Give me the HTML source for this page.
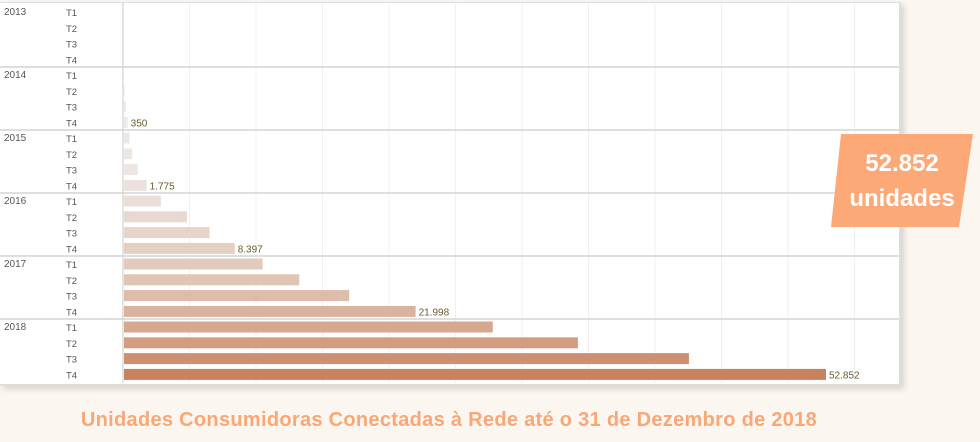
<!DOCTYPE html>
<html><head><meta charset="utf-8"><style>
body{margin:0;width:980px;height:442px;background:#fcf6f0;overflow:hidden;font-family:"Liberation Sans",sans-serif}
#panel{position:absolute;left:0;top:2px;width:899px;height:381px;background:#fff;border-top:1px solid #e0e0e0;border-right:2px solid #ddd;border-bottom:2px solid #ddd;box-shadow:3px 3px 6px rgba(0,0,0,.15)}
#title{position:absolute;left:0;width:898px;top:409px;text-align:center;color:#f9a777;font-weight:bold;font-size:20px;letter-spacing:0.3px;font-family:"Liberation Sans",sans-serif}
#callout{position:absolute;left:831px;top:134px;width:142px;height:93px}
</style></head><body>
<div id="panel">
<svg id="chart" width="900" height="382"></svg>
</div>
<div id="callout">
<svg width="142" height="93"><polygon points="10,0 142,0 128,93 0,93" fill="#fda877"/>
<text x="71" y="37" text-anchor="middle" fill="#fff" font-weight="bold" font-size="24" font-family="Liberation Sans,sans-serif">52.852</text>
<text x="71" y="72" text-anchor="middle" fill="#fff" font-weight="bold" font-size="24" font-family="Liberation Sans,sans-serif">unidades</text></svg>
</div>
<div id="title">Unidades Consumidoras Conectadas à Rede até o 31 de Dezembro de 2018</div>
<script>
const years=["2013","2014","2015","2016","2017","2018"];
const quarters=["T1","T2","T3","T4"];
const values=[0,0,0,0, 50,120,220,350, 500,700,1100,1775, 2850,4800,6500,8397, 10500,13250,17000,21998, 27800,34200,42550,52852];
const labels=["","","","","","","","350","","","","1.775","","","","8.397","","","","21.998","","","","52.852"];
const gridTicks=[0,5000,10000,15000,20000,25000,30000,35000,40000,45000,50000,55000];
const NS="http://www.w3.org/2000/svg";
const svg=document.getElementById('chart');
const x0=123,xMax=52852,xPx=703;
const xs=v=>x0+v/xMax*xPx;
const top0=1,blockH=63,rowH=15.8;
const ys=i=>top0+Math.floor(i/4)*blockH+(i%4)*rowH+8;
function mk(t,a){const e=document.createElementNS(NS,t);for(const k in a)e.setAttribute(k,a[k]);svg.appendChild(e);return e;}
gridTicks.forEach(g=>{const x=xs(g);if(x>898)return;
const l=mk('line',{x1:x,x2:x,y1:0,y2:380,stroke:g===0?'#c8c8c8':'#f0f0f0','stroke-width':1});

});
years.forEach((y,b)=>{
const yy=top0+b*blockH;
if(b>0){const l=mk('line',{x1:0,x2:899,y1:yy,y2:yy,stroke:'#d4d4d4','stroke-width':1.5});

}
const t=mk('text',{x:4,y:yy+11,'font-size':10,fill:'#555'});t.textContent=y;


});
function col(f){const a=[239,236,234],c=[200,130,93];return `rgb(${a.map((v,i)=>Math.round(v+(c[i]-v)*f)).join(',')})`;}
values.forEach((v,i)=>{
const y=ys(i);
const q=mk('text',{x:66,y:y+4,'font-size':9.5,fill:'#555'});q.textContent=quarters[i%4];


if(v>0){const r=mk('rect',{x:x0+1,y:y-5.5,width:Math.max(0,xs(v)-x0-1),height:11,fill:col(Math.pow(v/xMax,0.7))});

}
if(labels[i]){const t=mk('text',{x:xs(v)+3,y:y+4,'font-size':10,fill:'#6b5a2a'});t.textContent=labels[i];

}
});
</script>
</body></html>
